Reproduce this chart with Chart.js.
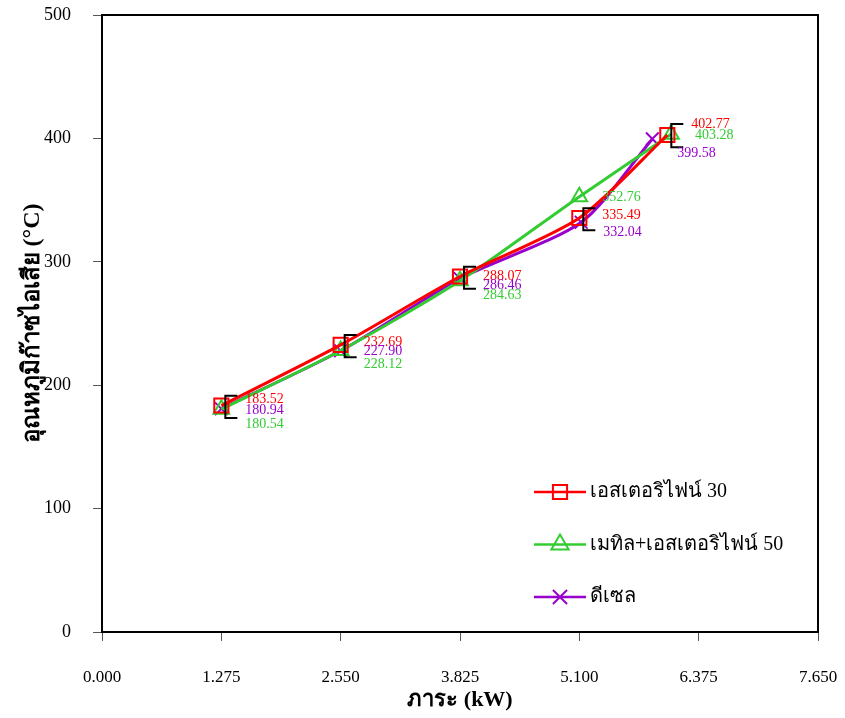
<!DOCTYPE html>
<html>
<head>
<meta charset="utf-8">
<script src="https://cdn.jsdelivr.net/npm/chart.js@4.4.0/dist/chart.umd.min.js"></script>
<style>
    html, body { margin: 0; padding: 0; background: #fff; }
    #wrap { width: 845px; height: 718px; position: relative; }
</style>
</head>
<body>
<div id="wrap"><canvas id="chart" width="845" height="718"></canvas></div>
<script>
// Datos
const seriesNames = ['เอสเตอริไฟน์ 30', 'เมทิล+เอสเตอริไฟน์ 50', 'ดีเซล'];
const loadEster30 = [1.275, 2.55, 3.825, 5.1, 6.04];
const tempEster30 = [183.52, 232.69, 288.07, 335.49, 402.77];
const loadMethyl50 = [1.275, 2.55, 3.825, 5.1, 6.08];
const tempMethyl50 = [180.54, 228.12, 284.63, 352.76, 403.28];
const loadDiesel = [1.275, 2.55, 3.825, 5.12, 5.88];
const tempDiesel = [180.94, 227.90, 286.46, 332.04, 399.58];
const errUp = [8, 8, 8, 8, 9];
const errDown = [10, 10, 10, 10, 10];
const xTicks = [0, 1.275, 2.55, 3.825, 5.1, 6.375, 7.65];
const yTicks = [0, 100, 200, 300, 400, 500];

const colors = ['#ff0000', '#33cc33', '#9900cc'];
const serif = "'Liberation Serif', 'Times New Roman', serif";

function toPoints(xs, ys) {
    return xs.map((x, i) => ({ x: x, y: ys[i] }));
}

// Desplazamiento de las etiquetas (px) por serie y punto
const labelOffsets = [
    [[24, -6], [23, -3], [23, 0], [23, -3], [24, -11]],
    [[24, 15], [23, 14], [23, 15], [23, 1], [24, 1]],
    [[24, 2], [23, 1], [23, 7], [22, 10], [25, 14]]
];

// Barras de error en forma de corchete, en negro
const errorBars = {
    id: 'errorBars',
    afterDatasetsDraw(chart) {
        const { ctx, scales } = chart;
        ctx.save();
        ctx.strokeStyle = '#000';
        ctx.lineWidth = 2;
        loadEster30.forEach((x, i) => {
            const px = scales.x.getPixelForValue(x) + 4;
            const yTop = scales.y.getPixelForValue(tempEster30[i] + errUp[i]);
            const yBot = scales.y.getPixelForValue(tempEster30[i] - errDown[i]);
            ctx.beginPath();
            ctx.moveTo(px + 12, yTop);
            ctx.lineTo(px, yTop);
            ctx.lineTo(px, yBot);
            ctx.lineTo(px + 12, yBot);
            ctx.stroke();
        });
        ctx.restore();
    }
};

// Etiquetas de valores
const valueLabels = {
    id: 'valueLabels',
    afterDatasetsDraw(chart) {
        const { ctx } = chart;
        ctx.save();
        ctx.font = '14px ' + serif;
        ctx.textBaseline = 'middle';
        ctx.textAlign = 'left';
        chart.data.datasets.forEach((ds, s) => {
            const meta = chart.getDatasetMeta(s);
            meta.data.forEach((pt, i) => {
                const off = labelOffsets[s][i];
                ctx.fillStyle = colors[s];
                ctx.fillText(ds.data[i].y.toFixed(2), pt.x + off[0], pt.y + off[1]);
            });
        });
        ctx.restore();
    }
};

// Leyenda dentro del área del gráfico
const insideLegend = {
    id: 'insideLegend',
    afterDraw(chart) {
        const { ctx } = chart;
        const styles = ['rect', 'triangle', 'crossRot'];
        ctx.save();
        ctx.font = '20px ' + serif;
        ctx.textBaseline = 'middle';
        seriesNames.forEach((name, i) => {
            const y = 492 + i * 52.5;
            ctx.strokeStyle = colors[i];
            ctx.fillStyle = 'rgba(0,0,0,0)';
            ctx.lineWidth = 2.5;
            ctx.beginPath();
            ctx.moveTo(534, y);
            ctx.lineTo(586, y);
            ctx.stroke();
            ctx.lineWidth = 2;
            Chart.helpers.drawPoint(ctx, { pointStyle: styles[i], radius: 10, rotation: 0, borderWidth: 2 }, 560, y);
            ctx.fillStyle = '#000';
            ctx.fillText(name, 590, y);
        });
        ctx.restore();
    }
};

function makeDataset(label, xs, ys, color, style, radius) {
    return {
        label: label,
        data: toPoints(xs, ys),
        borderColor: color,
        backgroundColor: 'rgba(0,0,0,0)',
        borderWidth: 3,
        pointStyle: style,
        pointRadius: radius,
        pointBorderWidth: 2,
        pointBorderColor: color,
        pointBackgroundColor: 'rgba(0,0,0,0)',
        tension: 0.25,
        fill: false
    };
}

new Chart(document.getElementById('chart'), {
    type: 'line',
    data: {
        datasets: [
            makeDataset(seriesNames[0], loadEster30, tempEster30, colors[0], 'rect', 10),
            makeDataset(seriesNames[1], loadMethyl50, tempMethyl50, colors[1], 'triangle', 9),
            makeDataset(seriesNames[2], loadDiesel, tempDiesel, colors[2], 'crossRot', 9)
        ]
    },
    options: {
        responsive: false,
        animation: false,
        layout: { padding: { top: 15, right: 27, bottom: 0, left: 18 } },
        plugins: {
            legend: { display: false },
            tooltip: { enabled: false }
        },
        scales: {
            x: {
                type: 'linear',
                min: 0,
                max: 7.65,
                afterBuildTicks: axis => { axis.ticks = xTicks.map(v => ({ value: v })); },
                afterFit: axis => {
                    axis.height = 86;
                    axis.paddingLeft = 0;
                    axis.paddingRight = 0;
                },
                border: { display: true, color: '#000', width: 2 },
                grid: { display: true, drawOnChartArea: false, drawTicks: true, tickLength: 9, color: '#555' },
                ticks: {
                    color: '#000',
                    padding: 26,
                    maxRotation: 0,
                    font: { family: serif, size: 17 },
                    callback: v => v.toFixed(3)
                },
                title: {
                    display: true,
                    text: 'ภาระ (kW)',
                    color: '#000',
                    padding: { top: 0, bottom: 4 },
                    font: { family: serif, size: 22, weight: 'bold' }
                }
            },
            y: {
                min: 0,
                max: 500,
                afterBuildTicks: axis => { axis.ticks = yTicks.map(v => ({ value: v })); },
                afterFit: axis => {
                    axis.width = 84;
                    axis.paddingTop = 0;
                    axis.paddingBottom = 0;
                },
                border: { display: true, color: '#000', width: 2 },
                grid: { display: true, drawOnChartArea: false, drawTicks: true, tickLength: 9, color: '#555' },
                ticks: {
                    color: '#000',
                    padding: 22,
                    font: { family: serif, size: 18 }
                },
                title: {
                    display: true,
                    text: 'อุณหภูมิก๊าซไอเสีย (°C)',
                    color: '#000',
                    padding: { top: 0, bottom: 0 },
                    font: { family: serif, size: 24, weight: 'bold' }
                }
            }
        }
    },
    plugins: [errorBars, valueLabels, insideLegend, {
        id: 'frame',
        afterDraw(chart) {
            const a = chart.chartArea;
            const ctx = chart.ctx;
            ctx.save();
            ctx.strokeStyle = '#000';
            ctx.lineWidth = 2;
            ctx.strokeRect(a.left, a.top, a.right - a.left, a.bottom - a.top);
            ctx.restore();
        }
    }]
});
</script>
</body>
</html>
